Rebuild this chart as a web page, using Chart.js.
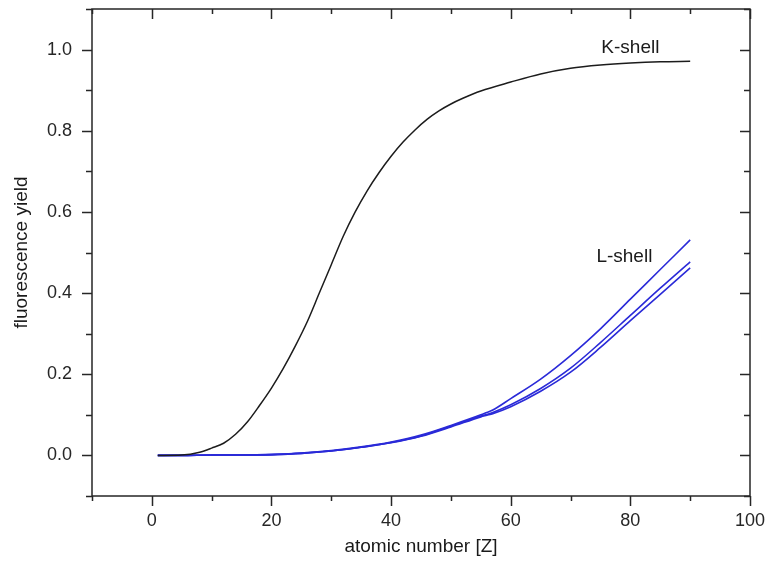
<!DOCTYPE html>
<html>
<head>
<meta charset="utf-8">
<script src="https://cdn.jsdelivr.net/npm/chart.js@4.4.1/dist/chart.umd.min.js"></script>
<style>
  html, body { margin: 0; padding: 0; background: #fff; }
  canvas { display: block; }
</style>
</head>
<body>
<canvas id="yieldCanvas" width="767" height="570"></canvas>
<script>
// K-shell fluorescence yield vs atomic number
const kZ = [1, 5, 8, 10, 12, 14, 16, 18, 20, 22, 24, 26, 28, 30, 32, 34, 36, 38, 40,
            42, 44, 46, 48, 50, 52, 55, 60, 65, 70, 75, 80, 85, 90];
const kYield = [0, 0.001, 0.008, 0.018, 0.03, 0.052, 0.083, 0.123, 0.166, 0.215, 0.27, 0.33,
                0.4, 0.47, 0.54, 0.6, 0.652, 0.697, 0.737, 0.772, 0.802, 0.828, 0.849, 0.866,
                0.88, 0.898, 0.92, 0.94, 0.954, 0.962, 0.967, 0.97, 0.971];

// L-subshell yields (three curves)
const lZ = [1, 5, 10, 15, 20, 25, 30, 35, 40, 45, 50, 55, 56, 57, 60, 65, 70, 75, 80, 85, 90];
const l1Yield = [0, 0, 0.001, 0.001, 0.002, 0.006, 0.012, 0.021, 0.033, 0.05, 0.074, 0.1,
                 0.106, 0.112, 0.14, 0.188, 0.246, 0.312, 0.385, 0.458, 0.531];
const l2Yield = [0, 0, 0.001, 0.001, 0.002, 0.005, 0.011, 0.02, 0.032, 0.048, 0.072, 0.097,
                 0.101, 0.106, 0.125, 0.165, 0.215, 0.278, 0.345, 0.412, 0.477];
const l3Yield = [0, 0, 0.001, 0.001, 0.002, 0.005, 0.011, 0.02, 0.031, 0.047, 0.07, 0.095,
                 0.099, 0.103, 0.12, 0.158, 0.205, 0.266, 0.332, 0.397, 0.462];

// axis ticks
const xTicks = [0, 20, 40, 60, 80, 100];
const yTicks = [0, 0.2, 0.4, 0.6, 0.8, 1.0];

// curve labels
const shellNames = ['K-shell', 'L-shell'];
const shellLabelZ = [80, 79];
const shellLabelY = [1.005, 0.489];

const INK = '#262626';
const BLUE = '#2a2ad8';
const FONT = 'Liberation Sans, Arial, sans-serif';

const toPoints = (xs, ys) => xs.map((x, i) => ({x: x, y: ys[i]}));

function curve(label, xs, ys, color, width) {
    return {
        label: label,
        data: toPoints(xs, ys),
        borderColor: color,
        borderWidth: width,
        pointRadius: 0,
        fill: false,
        cubicInterpolationMode: 'monotone'
    };
}

// drop the automatic label overhang so the plot box stays where layout.padding puts it
function noOverhang(s) {
    s.paddingTop = 0;
    s.paddingBottom = 0;
    s.paddingLeft = 0;
    s.paddingRight = 0;
}

// frame with major/minor ticks: outward on bottom/left, inward on top/right
const frameTicks = {
    id: 'frameTicks',
    afterDraw(chart) {
        const {ctx, chartArea: a, scales: {x, y}} = chart;
        ctx.save();
        ctx.strokeStyle = INK;
        ctx.lineWidth = 1.5;
        ctx.strokeRect(a.left, a.top, a.right - a.left, a.bottom - a.top);
        ctx.beginPath();
        for (let v = -10; v <= 100; v += 10) {
            const len = (v % 20 === 0) ? 10 : 5;
            const px = Math.round(x.getPixelForValue(v)) + 0.5;
            ctx.moveTo(px, a.bottom); ctx.lineTo(px, a.bottom + len);
            ctx.moveTo(px, a.top); ctx.lineTo(px, a.top + len);
        }
        for (let k = -1; k <= 11; k++) {
            const len = (k % 2 === 0) ? 10 : 6;
            const py = Math.round(y.getPixelForValue(k / 10)) + 0.5;
            ctx.moveTo(a.left, py); ctx.lineTo(a.left - len, py);
            ctx.moveTo(a.right, py); ctx.lineTo(a.right - len, py);
        }
        ctx.stroke();

        ctx.fillStyle = '#1a1a1a';
        ctx.font = '19px ' + FONT;
        ctx.textAlign = 'center';
        ctx.textBaseline = 'middle';
        shellNames.forEach((name, i) => {
            ctx.fillText(name, x.getPixelForValue(shellLabelZ[i]), y.getPixelForValue(shellLabelY[i]));
        });
        ctx.restore();
    }
};

const ctx = document.getElementById('yieldCanvas').getContext('2d');
new Chart(ctx, {
    type: 'line',
    data: {
        datasets: [
            curve('K', kZ, kYield, '#1c1c1c', 1.5),
            curve('L1', lZ, l1Yield, BLUE, 1.6),
            curve('L2', lZ, l2Yield, BLUE, 1.6),
            curve('L3', lZ, l3Yield, BLUE, 1.6)
        ]
    },
    options: {
        responsive: false,
        animation: false,
        layout: { padding: { top: 9, right: 17, left: 0, bottom: 0 } },
        plugins: { legend: { display: false }, tooltip: { enabled: false } },
        scales: {
            x: {
                type: 'linear',
                min: -10,
                max: 100,
                grid: { display: false, drawTicks: false },
                border: { display: false },
                afterBuildTicks: (s) => { s.ticks = xTicks.map(v => ({value: v})); },
                afterFit: (s) => { s.height = 74; noOverhang(s); },
                ticks: {
                    padding: 14,
                    color: INK,
                    font: { family: FONT, size: 18 },
                    maxRotation: 0,
                    callback: (v) => String(v)
                },
                title: {
                    display: true,
                    text: 'atomic number [Z]',
                    color: '#1a1a1a',
                    font: { family: FONT, size: 19 },
                    padding: { top: 0, bottom: 12 }
                }
            },
            y: {
                type: 'linear',
                min: -0.1,
                max: 1.1,
                grid: { display: false, drawTicks: false },
                border: { display: false },
                afterBuildTicks: (s) => { s.ticks = yTicks.map(v => ({value: v})); },
                afterFit: (s) => { s.width = 92; noOverhang(s); },
                ticks: {
                    padding: 20,
                    color: INK,
                    font: { family: FONT, size: 18 },
                    callback: (v) => Number(v).toFixed(1)
                },
                title: {
                    display: true,
                    text: 'fluorescence yield',
                    color: '#1a1a1a',
                    font: { family: FONT, size: 19 },
                    padding: { top: 10, bottom: 0 }
                }
            }
        }
    },
    plugins: [frameTicks]
});
</script>
</body>
</html>
